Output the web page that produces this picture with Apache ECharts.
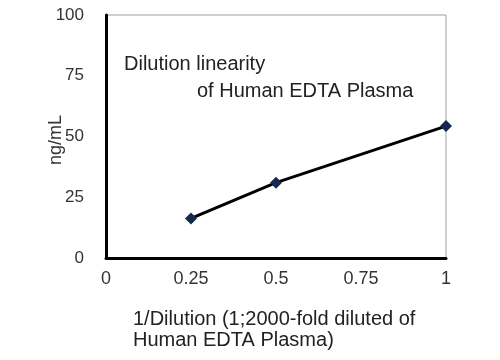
<!DOCTYPE html>
<html>
<head>
<meta charset="utf-8">
<script src="https://cdn.jsdelivr.net/npm/echarts@6/dist/echarts.min.js"></script>
<style>html,body{margin:0;padding:0;background:#fff;}#c{width:500px;height:360px;}</style>
</head>
<body>
<div id="c"></div>
<script>
const xValues = [0.25, 0.5, 1];
const yValues = [16.3, 31.0, 54.3];
const xTicks = [0, 0.25, 0.5, 0.75, 1];
const yTicks = [0, 25, 50, 75, 100];
const yAxisTitle = 'ng/mL';
const xAxisTitle = ['1/Dilution (1;2000-fold diluted of', 'Human EDTA Plasma)'];
const chartTitle = ['Dilution linearity', 'of Human EDTA Plasma'];

const font = 'Arial, "Liberation Sans", sans-serif';
const chart = echarts.init(document.getElementById('c'), null, {renderer: 'canvas'});
chart.setOption({
  animation: false,
  grid: {left: 106, right: 54, top: 15, bottom: 102, show: true, borderColor: '#a0a0a0', borderWidth: 1, backgroundColor: 'transparent'},
  xAxis: {
    type: 'value', min: xTicks[0], max: xTicks[xTicks.length-1], interval: 0.25,
    axisLine: {show: true, onZero: false, lineStyle: {color: '#000', width: 3}},
    axisTick: {show: false}, splitLine: {show: false},
    axisLabel: {color: '#333', fontSize: 18, fontFamily: font, margin: 12, formatter: v => String(v)}
  },
  yAxis: {
    type: 'value', min: yTicks[0], max: yTicks[yTicks.length-1], interval: 25,
    axisLine: {show: true, lineStyle: {color: '#000', width: 3}},
    axisTick: {show: false}, splitLine: {show: false},
    axisLabel: {color: '#333', fontSize: 17, fontFamily: font, margin: 22}
  },
  series: [{
    type: 'line',
    data: xValues.map((x, i) => [x, yValues[i]]),
    symbol: 'diamond', symbolSize: 12,
    itemStyle: {color: '#13294f'},
    lineStyle: {color: '#000', width: 3},
    z: 5
  }],
  graphic: [
    {type: 'text', x: 56, y: 140, rotation: Math.PI / 2, style: {text: yAxisTitle, fill: '#333', font: '18px ' + font, align: 'center', verticalAlign: 'middle'}},
    {type: 'text', left: 124, top: 54, style: {text: chartTitle[0], fill: '#222', font: '20px ' + font}},
    {type: 'text', left: 197, top: 81, style: {text: chartTitle[1], fill: '#222', font: '20px ' + font}},
    {type: 'text', left: 133, top: 309, style: {text: xAxisTitle[0], fill: '#222', font: '20px ' + font}},
    {type: 'text', left: 133, top: 330, style: {text: xAxisTitle[1], fill: '#222', font: '20px ' + font}}
  ]
});
</script>
</body>
</html>
